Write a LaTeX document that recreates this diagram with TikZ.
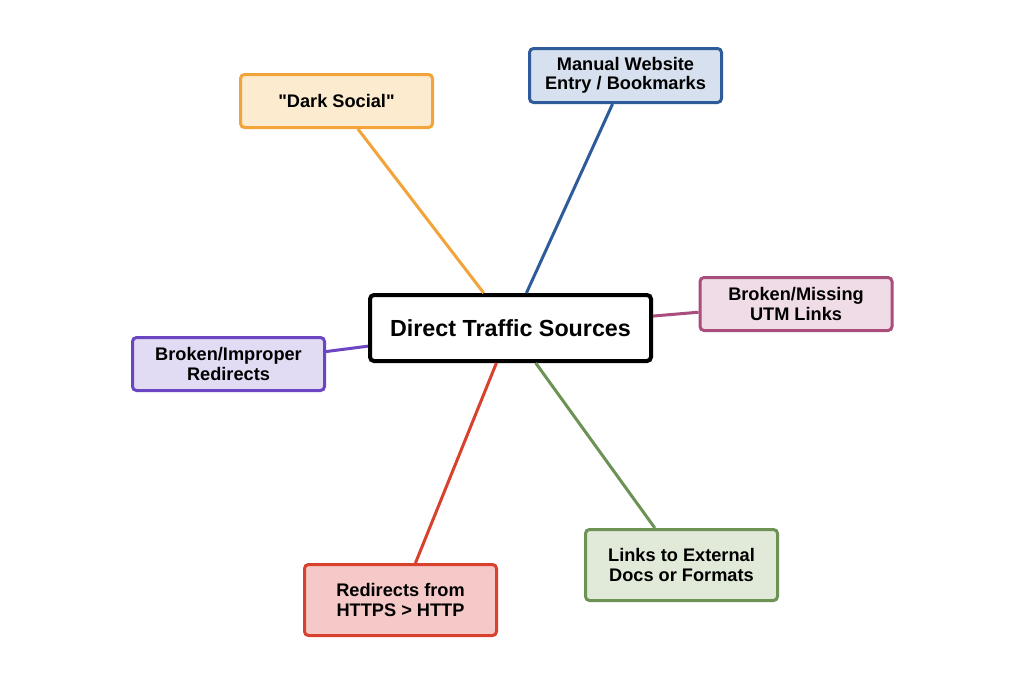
\documentclass[tikz,border=0pt]{standalone}
\usepackage{fontspec}
\setmainfont{Liberation Sans}[Ligatures=TeXOff]
\definecolor{obord}{HTML}{F2A33A}\definecolor{ofill}{HTML}{FDEBD0}
\definecolor{bbord}{HTML}{2E5B9A}\definecolor{bfill}{HTML}{D6E0EE}
\definecolor{pbord}{HTML}{A94E7C}\definecolor{pfill}{HTML}{F0DCE6}
\definecolor{ubord}{HTML}{6B45C2}\definecolor{ufill}{HTML}{E1DBF3}
\definecolor{gbord}{HTML}{6C9254}\definecolor{gfill}{HTML}{E1EAD8}
\definecolor{rbord}{HTML}{D9412F}\definecolor{rfill}{HTML}{F5C9C8}
\tikzset{
  leaf/.style={draw=#1, line width=3pt, rounded corners=4pt, align=center,
    minimum width=192pt, inner sep=2pt,
    font=\fontsize{18.2}{19.5}\selectfont\bfseries},
  hub/.style={draw=black, fill=white, line width=4pt, rounded corners=4pt,
    minimum width=281pt, minimum height=66pt,
    font=\fontsize{23.3}{25}\selectfont\bfseries},
  link/.style={line width=3pt, draw=#1},
}
\begin{document}
\begin{tikzpicture}[x=1pt,y=-1pt]
\useasboundingbox[fill=white] (0,0) rectangle (1024,683);
\node[hub] (c) at (510.5,328) {Direct Traffic Sources};
\node[leaf=obord, fill=ofill, minimum height=53pt] (ds) at (336.5,101) {"Dark Social"};
\node[leaf=bbord, fill=bfill, minimum height=54pt] (mw) at (625.5,75.5) {Manual Website\\Entry / Bookmarks};
\node[leaf=pbord, fill=pfill, minimum height=53pt] (utm) at (796,304) {Broken/Missing\\UTM Links};
\node[leaf=ubord, fill=ufill, minimum height=53pt] (bi) at (228.5,364) {Broken/Improper\\Redirects};
\node[leaf=gbord, fill=gfill, minimum height=71pt] (le) at (681.5,565) {Links to External\\Docs or Formats};
\node[leaf=rbord, fill=rfill, minimum height=71pt] (rh) at (400.5,600) {Redirects from\\HTTPS > HTTP};
\draw[link=obord] (ds) -- (c);
\draw[link=bbord] (mw) -- (c);
\draw[link=pbord] (utm) -- (c);
\draw[link=ubord] (bi) -- (c);
\draw[link=gbord] (le) -- (c);
\draw[link=rbord] (rh) -- (c);
\end{tikzpicture}
\end{document}
